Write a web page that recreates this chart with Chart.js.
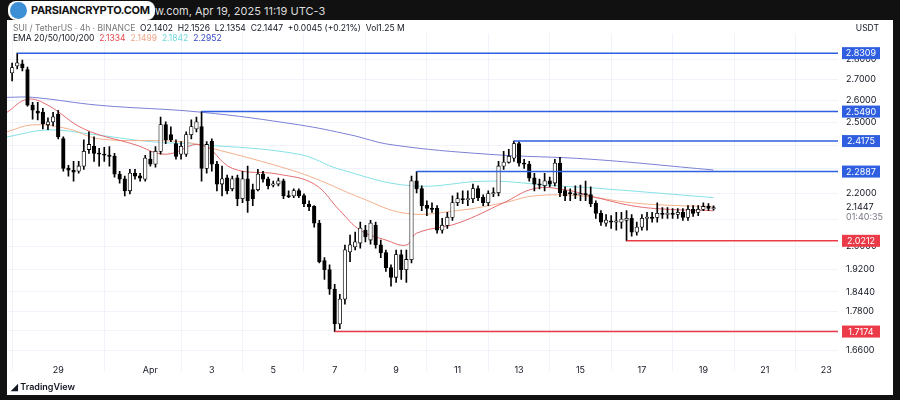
<!DOCTYPE html>
<html>
<head>
<meta charset="utf-8">
<script src="https://cdn.jsdelivr.net/npm/chart.js@4.4.1/dist/chart.umd.min.js"></script>
<style>
  body { margin: 0; width: 900px; height: 400px; background: #111; position: relative; overflow: hidden; font-family: "Inter", "Noto Sans", sans-serif; }
  #paper { position: absolute; left: 7px; top: 20px; width: 886px; height: 375px; background: #fff; }
  #wrap { position: absolute; left: 0; top: 0; width: 886px; height: 375px; }
  .topbar { position: absolute; left: 146px; top: 4px; color: #ddd; font-size: 11px; }
  .logo { position: absolute; left: 8px; top: 1px; height: 19px; padding: 0 5px 0 23px; background: #fff; border-radius: 8px; font-weight: 700; font-size: 11px; letter-spacing: -0.3px; line-height: 19px; color: #111; }
  .logo i { position: absolute; left: 2px; top: 1px; width: 17px; height: 17px; border-radius: 50%; background: #3d8fd6; }
  .row { position: absolute; left: 6px; font-size: 8.5px; color: #131722; white-space: nowrap; }
  .row span { margin-right: 5px; }
  .usdt { position: absolute; right: 14px; top: 3px; font-size: 8.5px; color: #131722; }
  .tv { position: absolute; left: 4px; bottom: 3px; font-size: 9px; font-weight: 600; color: #131722; }
</style>
</head>
<body>
<div class="topbar">iew.com, Apr 19, 2025 11:19 UTC-3</div>
<div id="paper">
  <div id="wrap"><canvas id="chart"></canvas></div>
  <div class="row" style="top:3px;color:#777">SUI / TetherUS · 4h · BINANCE &nbsp;<span style="color:#131722">O2.1402 &nbsp;H2.1526 &nbsp;L2.1354 &nbsp;C2.1447 &nbsp;+0.0045 (+0.21%) &nbsp;Vol1.25 M</span></div>
  <div class="row" style="top:13px">EMA 20/50/100/200 &nbsp;<span style="color:#e0474c">2.1334</span><span style="color:#f0a58a">2.1499</span><span style="color:#6fd8e0">2.1842</span><span style="color:#3346c7">2.2952</span></div>
  <div class="usdt">USDT</div>
  <div class="tv">◢ TradingView</div>
</div>
<div class="logo"><i></i>PARSIANCRYPTO.COM</div>
<script>
// 4h candles, [open, high, low, close]
const candles = [
  [2.732,2.781,2.693,2.757],[2.767,2.831,2.752,2.781],[2.776,2.796,2.742,2.757],[2.747,2.761,2.574,2.578],
  [2.578,2.592,2.515,2.555],[2.550,2.592,2.511,2.542],[2.546,2.564,2.471,2.493],[2.489,2.520,2.467,2.502],
  [2.502,2.546,2.484,2.524],[2.537,2.555,2.427,2.436],[2.427,2.436,2.290,2.302],[2.302,2.315,2.270,2.294],
  [2.294,2.331,2.250,2.286],[2.290,2.331,2.282,2.311],[2.311,2.423,2.298,2.373],[2.381,2.458,2.365,2.402],
  [2.394,2.436,2.331,2.365],[2.365,2.386,2.311,2.361],[2.361,2.390,2.331,2.357],[2.357,2.394,2.311,2.352],
  [2.352,2.365,2.266,2.278],[2.278,2.290,2.242,2.258],[2.258,2.270,2.191,2.211],[2.211,2.298,2.199,2.282],
  [2.282,2.298,2.258,2.270],[2.270,2.282,2.250,2.262],[2.258,2.356,2.250,2.344],[2.340,2.373,2.311,2.319],
  [2.319,2.394,2.307,2.373],[2.373,2.524,2.361,2.489],[2.489,2.502,2.406,2.423],[2.445,2.480,2.415,2.423],
  [2.406,2.423,2.340,2.352],[2.361,2.415,2.340,2.394],[2.361,2.458,2.352,2.445],[2.445,2.511,2.427,2.480],
  [2.471,2.524,2.458,2.502],[2.480,2.549,2.250,2.302],[2.302,2.415,2.282,2.402],[2.415,2.427,2.290,2.319],
  [2.319,2.331,2.211,2.238],[2.238,2.311,2.191,2.258],[2.262,2.274,2.199,2.211],[2.219,2.270,2.211,2.258],
  [2.262,2.274,2.153,2.180],[2.180,2.290,2.164,2.258],[2.258,2.311,2.127,2.172],[2.215,2.238,2.153,2.180],
  [2.215,2.298,2.211,2.278],[2.278,2.290,2.246,2.258],[2.258,2.266,2.219,2.231],[2.234,2.250,2.227,2.238],
  [2.238,2.262,2.231,2.250],[2.250,2.258,2.180,2.191],[2.191,2.211,2.184,2.188],[2.191,2.219,2.184,2.211],
  [2.211,2.219,2.184,2.191],[2.191,2.199,2.149,2.161],[2.157,2.172,2.134,2.149],[2.149,2.153,2.071,2.086],
  [2.086,2.097,1.943,1.947],[1.950,1.961,1.886,1.919],[1.919,1.936,1.836,1.853],[1.853,1.869,1.717,1.741],
  [1.741,1.836,1.726,1.820],[1.820,2.006,1.804,1.988],[1.981,2.042,1.947,2.006],[1.999,2.053,1.988,2.017],
  [2.013,2.090,1.995,2.067],[2.060,2.078,2.017,2.035],[2.024,2.097,2.009,2.086],[2.078,2.090,1.995,2.006],
  [2.006,2.024,1.961,1.978],[1.978,1.988,1.913,1.926],[1.926,1.936,1.863,1.893],[1.893,1.988,1.876,1.971],
  [1.971,1.988,1.886,1.919],[1.919,1.988,1.876,1.954],[1.954,2.270,1.943,2.250],[2.250,2.2887,2.203,2.219],
  [2.219,2.231,2.134,2.153],[2.153,2.172,2.115,2.142],[2.142,2.164,2.127,2.138],[2.142,2.153,2.049,2.060],
  [2.060,2.104,2.049,2.078],[2.078,2.127,2.067,2.108],[2.108,2.191,2.097,2.164],[2.164,2.203,2.153,2.180],
  [2.180,2.211,2.161,2.176],[2.176,2.211,2.153,2.180],[2.180,2.238,2.164,2.219],[2.219,2.231,2.172,2.184],
  [2.184,2.195,2.153,2.164],[2.164,2.211,2.153,2.199],[2.199,2.223,2.188,2.203],[2.203,2.331,2.191,2.311],
  [2.311,2.373,2.298,2.327],[2.327,2.382,2.323,2.352],[2.344,2.4175,2.331,2.406],[2.406,2.415,2.311,2.323],
  [2.323,2.340,2.302,2.319],[2.319,2.331,2.250,2.262],[2.262,2.282,2.211,2.238],[2.238,2.258,2.219,2.234],
  [2.231,2.282,2.211,2.250],[2.250,2.266,2.227,2.238],[2.242,2.340,2.231,2.323],[2.323,2.348,2.188,2.203],
  [2.211,2.227,2.172,2.191],[2.203,2.219,2.172,2.199],[2.199,2.231,2.180,2.195],[2.195,2.234,2.172,2.199],
  [2.199,2.250,2.172,2.195],[2.195,2.227,2.149,2.161],[2.161,2.172,2.104,2.123],[2.123,2.134,2.078,2.090],
  [2.086,2.119,2.075,2.097],[2.094,2.115,2.067,2.090],[2.090,2.127,2.060,2.094],[2.090,2.127,2.067,2.101],
  [2.097,2.134,2.0212,2.104],[2.104,2.119,2.038,2.053],[2.053,2.090,2.042,2.071],[2.071,2.119,2.060,2.104],
  [2.104,2.127,2.060,2.108],[2.108,2.127,2.090,2.104],[2.108,2.164,2.090,2.123],[2.123,2.145,2.104,2.119],
  [2.119,2.145,2.104,2.123],[2.123,2.142,2.104,2.119],[2.119,2.142,2.104,2.127],[2.127,2.142,2.097,2.108],
  [2.108,2.153,2.097,2.138],[2.138,2.153,2.112,2.123],[2.127,2.153,2.115,2.138],[2.138,2.164,2.134,2.149],
  [2.149,2.161,2.134,2.142],[2.1402,2.1526,2.1354,2.1447]
];

// EMA lines, [candle index, price]
const ema20 = [[-1,2.546],[3,2.606],[7,2.578],[14,2.471],[24,2.402],[30,2.361],[37,2.402],[43,2.302],[52,2.278],[59,2.238],[64,2.134],[68,2.060],[73,2.024],[77,2.006],[79,2.049],[87,2.086],[96,2.164],[102,2.220],[108,2.215],[114,2.185],[121,2.153],[127,2.140],[137,2.1334]];
const ema50 = [[-1,2.458],[4,2.489],[11,2.471],[17,2.427],[33,2.415],[39,2.386],[52,2.311],[59,2.262],[68,2.184],[77,2.123],[87,2.134],[96,2.164],[102,2.191],[111,2.191],[121,2.164],[130,2.153],[137,2.1499]];
const ema100 = [[-1,2.436],[7,2.466],[15,2.449],[27,2.415],[37,2.402],[56,2.361],[64,2.298],[78,2.231],[93,2.250],[106,2.231],[113,2.223],[137,2.1842]];
const ema200 = [[-1,2.615],[4,2.615],[17,2.578],[37,2.546],[56,2.489],[66,2.445],[74,2.402],[93,2.361],[113,2.340],[137,2.2952]];

// horizontal levels: start candle, price, colour
const levelStart = [1, 37, 98, 79, 120, 63];
const levelPrice = [2.8309, 2.5490, 2.4175, 2.2887, 2.0212, 1.7174];
const levelColor = ['#2f5fe0', '#2f5fe0', '#2f5fe0', '#2f5fe0', '#ec3b48', '#ec3b48'];

const dayTicks = [9, 27, 39, 51, 63, 75, 87, 99, 111, 123, 135, 147, 159];
const dayLabels = ['29', 'Apr', '3', '5', '7', '9', '11', '13', '15', '17', '19', '21', '23'];
const priceTicks = [2.8, 2.7, 2.6, 2.5, 2.4, 2.3, 2.2, 2.1, 2.0, 1.92, 1.844, 1.78, 1.72, 1.66];
const hiddenTicks = [2.4, 2.3, 2.1, 1.72];

const X_MIN = -1, X_MAX = 161.3;
const lastPrice = 2.1447;

const wickData = candles.map((c, i) => ({ x: i, y: [c[2], c[1]] }));
const bodyData = candles.map((c, i) => ({ x: i, y: [Math.min(c[0], c[3]), Math.max(c[0], c[3]) * 1.0004] }));
const bodyFill = candles.map(c => c[3] >= c[0] ? '#ffffff' : '#000000');

function emaSet(pts, color) {
    return {
        type: 'line', data: pts.map(p => ({ x: p[0], y: p[1] })),
        borderColor: color, borderWidth: 1, pointRadius: 0, tension: 0.4, order: 5
    };
}

const levelSets = levelPrice.map((p, k) => ({
    type: 'line', data: [{ x: levelStart[k], y: p }, { x: X_MAX, y: p }],
    borderColor: levelColor[k], borderWidth: 1.5, pointRadius: 0, order: 1
}));

const axisBoxes = {
    id: 'axisBoxes',
    afterDraw(chart) {
        const ctx = chart.ctx, y = chart.scales.y, x = chart.scales.x, area = chart.chartArea;
        ctx.save();
        ctx.font = '9px Inter, sans-serif';
        ctx.textBaseline = 'middle';
        // date labels under the plot
        ctx.fillStyle = '#131722';
        ctx.textAlign = 'center';
        dayTicks.forEach((v, k) => ctx.fillText(dayLabels[k], x.getPixelForValue(v), area.bottom - 1));
        const py = y.getPixelForValue(lastPrice);
        ctx.textAlign = 'left';
        ctx.fillText(lastPrice.toFixed(4), area.right + 8, py);
        ctx.fillStyle = '#787b86';
        ctx.fillText('01:40:35', area.right + 8, py + 10);
        levelPrice.forEach((p, k) => {
            const yy = y.getPixelForValue(p);
            ctx.fillStyle = levelColor[k];
            ctx.fillRect(area.right + 4, yy - 6, 38, 12);
            ctx.fillStyle = '#fff';
            ctx.textAlign = 'center';
            ctx.fillText(p.toFixed(4), area.right + 23, yy + 0.5);
        });
        ctx.restore();
    }
};

new Chart(document.getElementById('chart'), {
    data: {
        datasets: [
            { type: 'bar', data: wickData, backgroundColor: '#000', barThickness: 1, grouped: false, order: 3 },
            { type: 'bar', data: bodyData, backgroundColor: bodyFill, borderColor: '#000', borderWidth: 0.8,
              borderSkipped: false, barThickness: 3.6, grouped: false, order: 2 },
            emaSet(ema20, '#e46d70'),
            emaSet(ema50, '#f3b08c'),
            emaSet(ema100, '#86e1e6'),
            emaSet(ema200, '#7b80d6'),
            ...levelSets
        ]
    },
    options: {
        responsive: true,
        maintainAspectRatio: false,
        animation: false,
        layout: { padding: { top: 10, left: 0, right: 0, bottom: 0 } },
        plugins: { legend: { display: false }, tooltip: { enabled: false } },
        scales: {
            x: {
                type: 'linear', min: X_MIN, max: X_MAX, offset: false,
                afterBuildTicks: axis => { axis.ticks = dayTicks.map(v => ({ value: v })); },
                afterFit: axis => { axis.height = 24; },
                ticks: { autoSkip: false, maxRotation: 0, callback: () => '' },
                grid: { color: '#f0f3fa', drawTicks: false },
                border: { display: false }
            },
            y: {
                type: 'logarithmic', position: 'right', min: 1.645, max: 2.933,
                afterBuildTicks: axis => { axis.ticks = priceTicks.map(v => ({ value: v })); },
                afterFit: axis => { axis.width = 55; },
                ticks: {
                    padding: 8, color: '#131722', font: { size: 9, family: 'Inter' },
                    callback: v => hiddenTicks.includes(v) ? '' : v.toFixed(4)
                },
                grid: { color: '#f0f3fa', drawTicks: false },
                border: { display: false }
            }
        }
    },
    plugins: [axisBoxes]
});
</script>
</body>
</html>
